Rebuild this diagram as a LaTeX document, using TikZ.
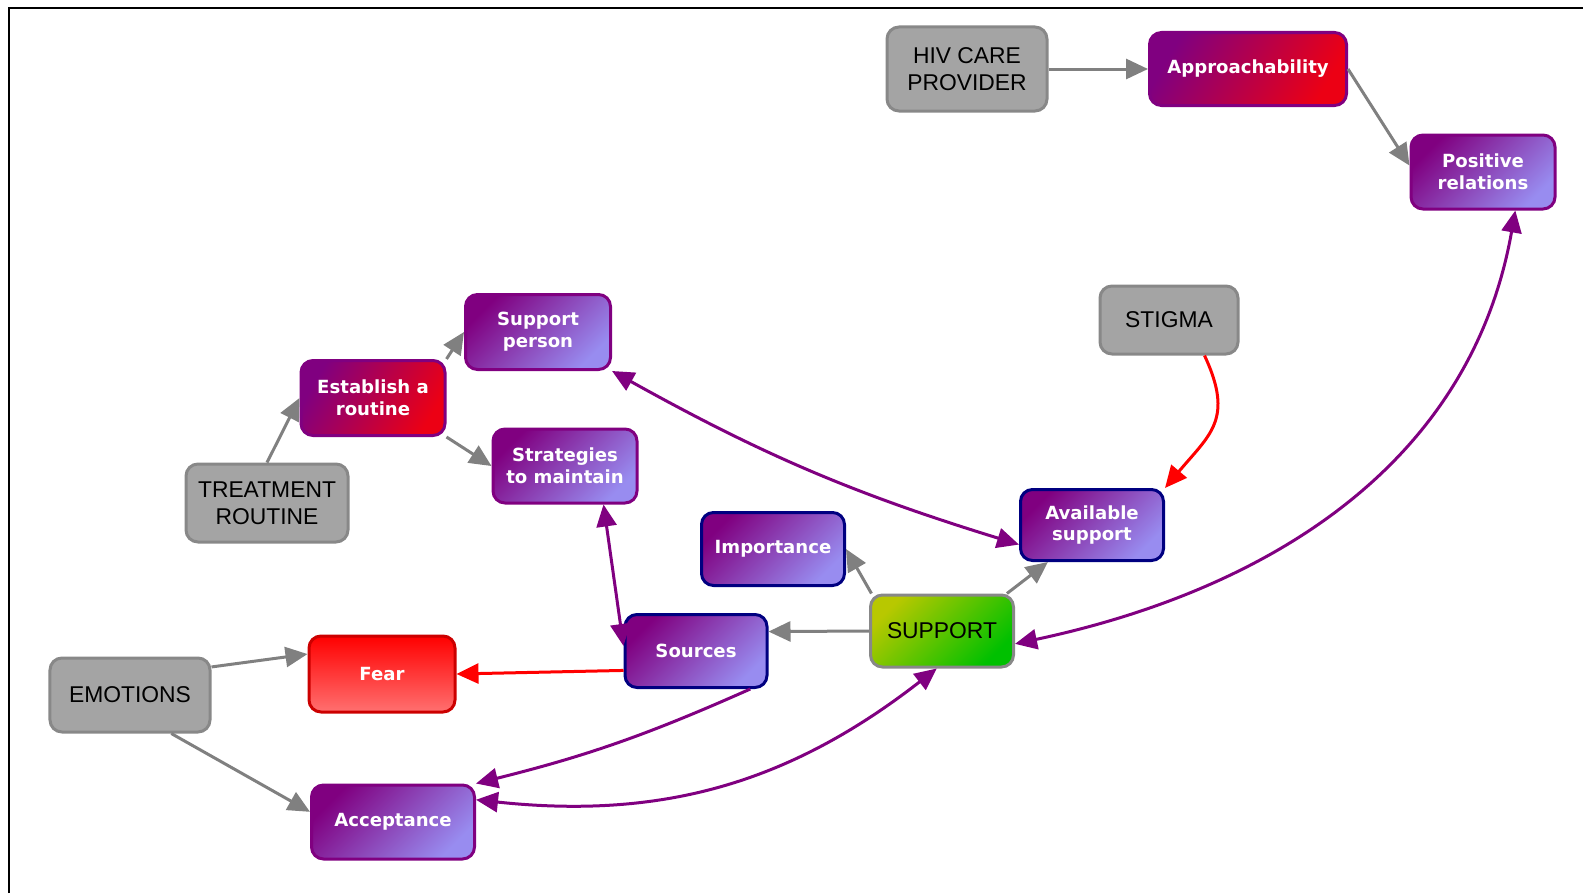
\documentclass[tikz,border=0pt]{standalone}
\usepackage{fontspec}
\setmainfont{Liberation Sans}
\newfontfamily\boxfont{DejaVu Sans}
\usepackage{tikz}
\usetikzlibrary{positioning, calc, arrows.meta}

\definecolor{cinza}{RGB}{164,164,164}
\definecolor{cinzaborda}{RGB}{136,136,136}
\definecolor{seta}{RGB}{128,128,128}
\definecolor{roxo}{RGB}{128,0,128}
\definecolor{lavanda}{RGB}{152,140,240}
\definecolor{marinho}{RGB}{0,0,128}
\definecolor{vermelho}{RGB}{236,0,20}
\definecolor{rosa}{RGB}{255,112,112}
\definecolor{vermborda}{RGB}{204,0,0}
\definecolor{lima}{RGB}{184,200,0}
\definecolor{verde}{RGB}{0,192,0}

\begin{document}
\begin{tikzpicture}[x=0.2mm, y=0.2mm, >={Triangle[length=4.4mm, width=4mm]},
					line width=0.6mm,
					caixa/.style={rectangle, rounded corners=2.4mm, draw, line width=0.6mm,
						minimum width=28.8mm, minimum height=14.8mm, align=center, inner sep=1mm},
					tema/.style={caixa, fill=cinza, draw=cinzaborda,
						font=\fontsize{13}{15.5}\selectfont},
					sub/.style={caixa, draw=roxo, top color=roxo, bottom color=lavanda,
						shading angle=45, text=white,
						font=\boxfont\bfseries\fontsize{10.3}{12.5}\selectfont},
					subm/.style={sub, draw=marinho},
					subv/.style={sub, bottom color=vermelho, shading angle=60},
					medo/.style={sub, draw=vermborda, top color=red, bottom color=rosa},
					centro/.style={caixa, draw=cinzaborda, top color=lima, bottom color=verde,
						shading angle=45, font=\fontsize{13}{15.5}\selectfont} ]
	\useasboundingbox (0,0) rectangle (1583,-893);
	\draw[line width=0.5mm] (9,-893) -- (9,-8) -- (1583,-8);
	
	\node[tema, minimum width=32mm, minimum height=16.8mm] (hiv) at (967,-69) {HIV CARE\\PROVIDER};
	\node[subv, minimum width=39.4mm, minimum height=14.6mm] (appr) at (1248,-69) {Approachability};
	\node[sub] (pos) at (1483,-172) {Positive\\relations};
	\node[tema, minimum width=27.6mm, minimum height=13.6mm] (stigma) at (1169,-320) {STIGMA};
	\node[sub, minimum width=29mm, minimum height=15mm] (sp) at (538,-332) {Support\\person};
	\node[subv, minimum height=15mm] (est) at (373,-398) {Establish a\\routine};
	\node[sub] (strat) at (565,-466) {Strategies\\to maintain};
	\node[tema, minimum width=32.4mm, minimum height=15.6mm] (treat) at (267,-503) {TREATMENT\\ROUTINE};
	\node[subm, minimum width=28.6mm, minimum height=14.2mm] (avail) at (1092,-525) {Available\\support};
	\node[subm, minimum width=28.6mm, minimum height=14.6mm] (imp) at (773,-549) {Importance};
	\node[centro, minimum width=28.6mm, minimum height=14.4mm] (support) at (942,-631) {SUPPORT};
	\node[subm, minimum width=28.4mm, minimum height=14.6mm] (sources) at (696,-651) {Sources};
	\node[tema, minimum width=32mm] (emo) at (130,-695) {EMOTIONS};
	\node[medo, minimum width=29.2mm, minimum height=15.2mm] (fear) at (382,-674) {Fear};
	\node[sub, minimum width=32.6mm] (acc) at (393,-822) {Acceptance};
	
	%Ligações simples (cinza):
	\path[->, color=seta] (hiv) edge (appr)
		(appr.east) edge (pos.175)
		(treat.north) edge (est.west)
		(est.north east) edge (sp.west)
		(est.south east) edge (strat.west)
		(support.152) edge (imp.east)
		(support.30) edge (avail.-140)
		(support.west) edge (sources.15)
		(emo.19) edge (fear.165)
		(emo.-43) edge (acc.173);
	
	%Ligações vermelhas:
	\path[->, color=red] (stigma.-45) edge[out=-65, in=50, looseness=1.3] (avail.north east)
		(sources.195) edge (fear.east);
	
	%Ligações roxas:
	\path[<->, color=roxo] (pos.-50) edge[out=-100, in=12] (support.-10)
		(sp.south east) edge[bend right=6] (avail.195)
		(strat.-45) edge (sources.176)
		(support.-98) edge[bend left=22] (acc.15);
	\path[->, color=roxo] (sources.-35) edge[bend left=5] (acc.north east);
\end{tikzpicture}
\end{document}
